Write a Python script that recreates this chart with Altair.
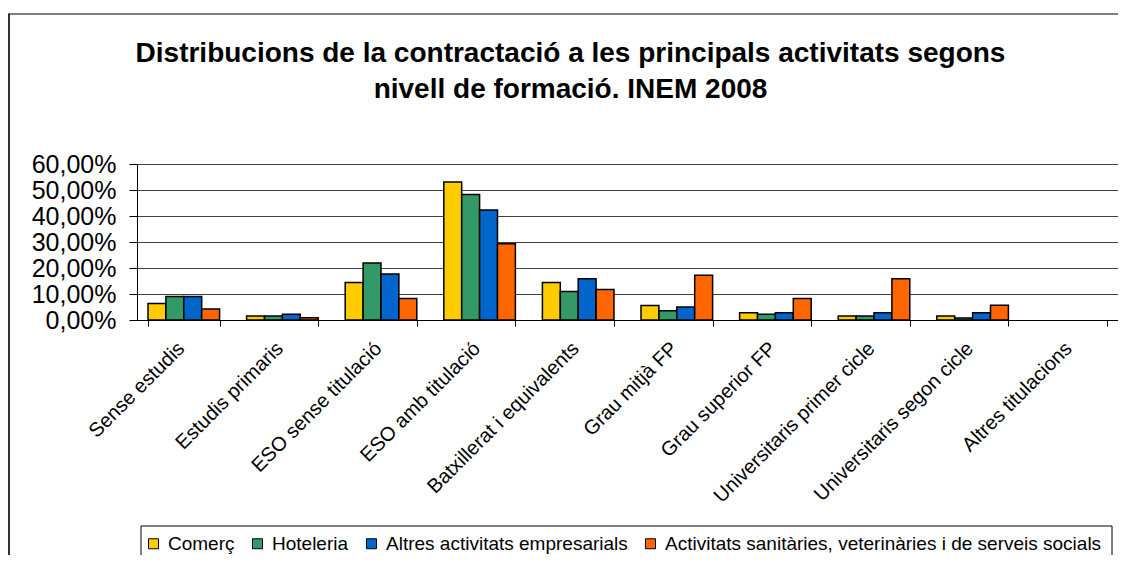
import altair as alt
import pandas as pd

categories = [
    "Sense estudis", "Estudis primaris", "ESO sense titulació", "ESO amb titulació",
    "Batxillerat i equivalents", "Grau mitjà FP", "Grau superior FP",
    "Universitaris primer cicle", "Universitaris segon cicle", "Altres titulacions",
]
series = [
    "Comerç", "Hoteleria", "Altres activitats empresarials",
    "Activitats sanitàries, veterinàries i de serveis socials",
]
comerc = [0.063, 0.015, 0.144, 0.531, 0.144, 0.056, 0.028, 0.015, 0.015, 0.0]
hoteleria = [0.090, 0.015, 0.219, 0.483, 0.110, 0.036, 0.022, 0.015, 0.008, 0.0]
altres = [0.090, 0.022, 0.177, 0.423, 0.159, 0.050, 0.028, 0.028, 0.028, 0.0]
sanitaries = [0.042, 0.009, 0.083, 0.293, 0.117, 0.172, 0.083, 0.159, 0.057, 0.0]
colors = ["#FFCC00", "#339966", "#0066CC", "#FF6600"]
y_ticks = [0, 0.1, 0.2, 0.3, 0.4, 0.5, 0.6]

rows = []
for s, vals in zip(series, [comerc, hoteleria, altres, sanitaries]):
    for c, v in zip(categories, vals):
        rows.append({"cat": c, "serie": s, "val": v})
df = pd.DataFrame(rows)

FONT = "Liberation Sans"

bars = alt.Chart(df).mark_bar(stroke="black", strokeWidth=1.5).encode(
    x=alt.X("cat:N", sort=categories,
            scale=alt.Scale(paddingInner=0.274, paddingOuter=0.1115),
            axis=alt.Axis(title=None, labelAngle=-45, labelFontSize=20, labelFont=FONT,
                          labelColor="black", tickBand="extent", tickSize=6,
                          tickColor="black", domainColor="black", labelPadding=12,
                          labelOffset=-10, grid=False, labelOverlap=False, labelLimit=400)),
    xOffset=alt.XOffset("serie:N", sort=series, scale=alt.Scale(paddingInner=0, paddingOuter=0)),
    y=alt.Y("val:Q", scale=alt.Scale(domain=[0, 0.6], nice=False),
            axis=alt.Axis(title=None, values=y_ticks, labelFontSize=25, labelFont=FONT,
                          labelColor="black",
                          labelExpr="replace(format(datum.value, '.2%'), '.', ',')",
                          tickSize=8, tickColor="black", domainColor="black",
                          labelPadding=13, gridColor="#404040", gridWidth=1)),
    color=alt.Color("serie:N", sort=series,
                    scale=alt.Scale(domain=series, range=colors),
                    legend=alt.Legend(orient="none", legendX=7, legendY=370,
                                      direction="horizontal", title=None,
                                      symbolType="square", symbolSize=100,
                                      symbolStrokeColor="black", symbolStrokeWidth=1,
                                      labelFontSize=19, labelFont=FONT, labelColor="black",
                                      columnPadding=13, labelOffset=5, padding=0,
                                      labelLimit=600)),
    strokeOpacity=alt.condition("datum.val > 0", alt.value(1), alt.value(0)),
)

one = pd.DataFrame({"a": [0]})
frame_left = alt.Chart(one).mark_rule(color="#333333", strokeWidth=2, clip=False).encode(
    x=alt.value(-128), y=alt.value(-150), y2=alt.value(460))
frame_top = alt.Chart(one).mark_rule(color="black", strokeWidth=1, clip=False).encode(
    x=alt.value(-129), x2=alt.value(1100), y=alt.value(-150))
legend_box = alt.Chart(one).mark_rect(fill="transparent", stroke="black", strokeWidth=1,
                                      clip=False).encode(
    x=alt.value(4), x2=alt.value(975), y=alt.value(362), y2=alt.value(460))

chart = alt.layer(bars, frame_left, frame_top, legend_box).properties(
    width=981, height=156,
    autosize=alt.AutoSizeParams(type="none"),
    padding={"left": 129, "top": 156, "right": 0, "bottom": 235},
    title=alt.Title(
        ["Distribucions de la contractació a les principals activitats segons",
         "nivell de formació. INEM 2008"],
        fontSize=28, font=FONT, fontWeight="bold", color="black", lineHeight=36,
        anchor="middle", dx=-57, offset=-91),
).configure_view(stroke="#808080", strokeWidth=2).configure(background="white")

chart.save("out.html", embed_options={"renderer": "svg", "actions": False})
